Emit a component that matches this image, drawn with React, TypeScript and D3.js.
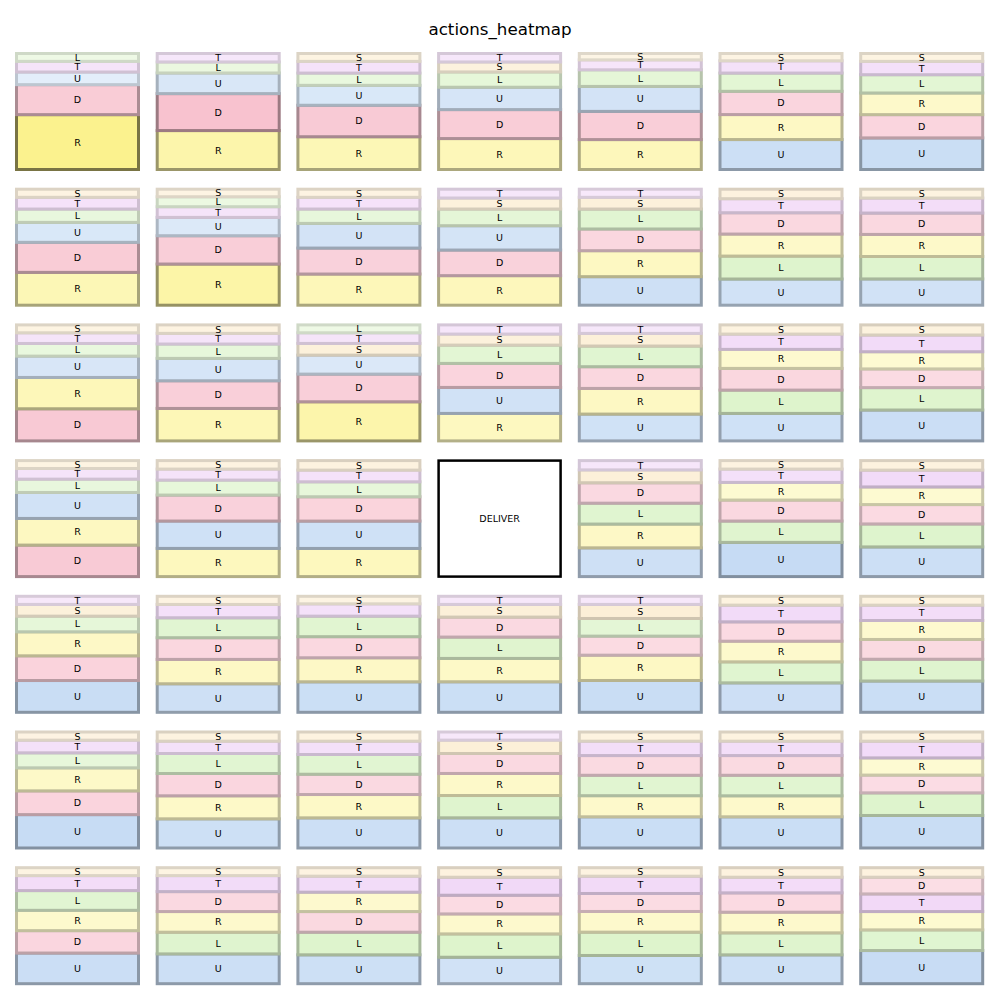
import React, { useEffect, useRef } from 'react';
import * as d3 from 'd3';

const actions = ['U', 'D', 'R', 'L', 'T', 'S'];
const baseColors = ['#7cade5', '#ef7c97', '#f9eb51', '#97dc61', '#cc70e2', '#f1b84c'];

const nRows = 7;
const nCols = 7;
const deliverCell = [3, 3];

// probabilities per action, row-major (7 x 7); null = DELIVER cell
const probU = [
  0.109, 0.178, 0.172, 0.193, 0.216, 0.259, 0.273,
  0.172, 0.158, 0.213, 0.210, 0.246, 0.226, 0.226,
  0.184, 0.193, 0.164, 0.224, 0.231, 0.237, 0.266,
  0.224, 0.236, 0.236, null, 0.248, 0.295, 0.256,
  0.274, 0.246, 0.263, 0.263, 0.274, 0.254, 0.269,
  0.287, 0.251, 0.260, 0.260, 0.269, 0.269, 0.280,
  0.264, 0.257, 0.249, 0.228, 0.243, 0.249, 0.286,
];
const probD = [
  0.259, 0.319, 0.272, 0.250, 0.244, 0.201, 0.201,
  0.259, 0.244, 0.224, 0.221, 0.187, 0.184, 0.184,
  0.277, 0.239, 0.239, 0.207, 0.187, 0.187, 0.161,
  0.272, 0.224, 0.210, null, 0.176, 0.181, 0.167,
  0.213, 0.187, 0.182, 0.172, 0.164, 0.167, 0.170,
  0.204, 0.192, 0.175, 0.172, 0.170, 0.170, 0.153,
  0.193, 0.172, 0.178, 0.161, 0.155, 0.167, 0.144,
];
const probR = [
  0.474, 0.336, 0.283, 0.267, 0.259, 0.216, 0.187,
  0.283, 0.355, 0.269, 0.255, 0.224, 0.190, 0.190,
  0.270, 0.280, 0.338, 0.237, 0.221, 0.164, 0.148,
  0.230, 0.243, 0.243, null, 0.205, 0.152, 0.152,
  0.207, 0.210, 0.207, 0.201, 0.218, 0.178, 0.163,
  0.198, 0.198, 0.201, 0.190, 0.182, 0.181, 0.148,
  0.175, 0.178, 0.167, 0.172, 0.178, 0.178, 0.158,
];
const probL = [
  0.068, 0.095, 0.106, 0.132, 0.144, 0.158, 0.158,
  0.115, 0.086, 0.124, 0.144, 0.172, 0.198, 0.193,
  0.109, 0.124, 0.068, 0.158, 0.178, 0.201, 0.193,
  0.115, 0.129, 0.129, null, 0.180, 0.184, 0.198,
  0.135, 0.172, 0.177, 0.184, 0.152, 0.181, 0.187,
  0.129, 0.172, 0.170, 0.192, 0.176, 0.177, 0.195,
  0.170, 0.187, 0.195, 0.201, 0.201, 0.190, 0.178,
];
const probT = [
  0.092, 0.073, 0.101, 0.073, 0.086, 0.106, 0.115,
  0.101, 0.092, 0.101, 0.076, 0.070, 0.121, 0.129,
  0.092, 0.092, 0.092, 0.079, 0.073, 0.132, 0.144,
  0.092, 0.095, 0.101, null, 0.080, 0.115, 0.145,
  0.070, 0.115, 0.106, 0.070, 0.070, 0.144, 0.132,
  0.109, 0.106, 0.115, 0.070, 0.124, 0.124, 0.144,
  0.129, 0.138, 0.138, 0.155, 0.149, 0.135, 0.152,
];
const probS = [
  0.000, 0.000, 0.068, 0.086, 0.055, 0.063, 0.068,
  0.070, 0.065, 0.070, 0.095, 0.101, 0.082, 0.076,
  0.068, 0.073, 0.101, 0.095, 0.109, 0.079, 0.087,
  0.068, 0.073, 0.082, null, 0.111, 0.073, 0.082,
  0.101, 0.070, 0.065, 0.109, 0.121, 0.076, 0.076,
  0.070, 0.079, 0.079, 0.115, 0.079, 0.079, 0.079,
  0.068, 0.068, 0.073, 0.082, 0.073, 0.082, 0.082,
];
const probs = [probU, probD, probR, probL, probT, probS];

const App = () => {
  const svgRef = useRef<SVGSVGElement | null>(null);
  const width = 1000;
  const height = 1000;

  useEffect(() => {
    if (!svgRef.current) return;
    const svg = d3.select(svgRef.current);
    svg.selectAll('*').remove();

    const font = 'DejaVu Sans, sans-serif';

    svg.append('rect').attr('width', width).attr('height', height).attr('fill', '#fff');

    svg.append('text')
      .attr('x', 500)
      .attr('y', 35)
      .attr('text-anchor', 'middle')
      .attr('font-family', font)
      .attr('font-size', 16.7)
      .text('actions_heatmap');

    // panel grid
    const colX = d3.scaleLinear().domain([0, 1]).range([16.5, 157.2]);
    const rowY = d3.scaleLinear().domain([0, 1]).range([53.5, 189.2]);
    const cellW = 122;
    const cellH = 116;

    const alpha = (p: number) => Math.min(1, 0.08 + 1.2 * p);
    const fillOf = (base: string, al: number) => d3.interpolateRgb('#ffffff', base)(al);
    const edgeOf = (fill: string, al: number) => {
      const c = d3.rgb(fill);
      const k = 1 - 0.8 * al;
      return d3.rgb(c.r * k, c.g * k, c.b * k).formatHex();
    };

    for (let r = 0; r < nRows; r++) {
      for (let c = 0; c < nCols; c++) {
        const x0 = colX(c);
        const y0 = rowY(r);
        const g = svg.append('g').attr('transform', `translate(${x0},${y0})`);

        if (r === deliverCell[0] && c === deliverCell[1]) {
          g.append('rect')
            .attr('width', cellW)
            .attr('height', cellH)
            .attr('fill', '#fff')
            .attr('stroke', '#000')
            .attr('stroke-width', 2.5);
          g.append('text')
            .attr('x', cellW / 2)
            .attr('y', cellH / 2)
            .attr('text-anchor', 'middle')
            .attr('dominant-baseline', 'central')
            .attr('font-family', font)
            .attr('font-size', 9.5)
            .text('DELIVER');
          continue;
        }

        const idx = r * nCols + c;
        const items = actions
          .map((a, i) => ({ a, i, p: probs[i][idx] as number }))
          .filter(d => d.p > 0)
          .sort((a, b) => b.p - a.p);
        const total = d3.sum(items, d => d.p);
        const y = d3.scaleLinear().domain([0, total]).range([cellH, 0]);

        let acc = 0;
        const segs = items.map(d => {
          const s = { ...d, y0: acc, y1: acc + d.p };
          acc += d.p;
          return s;
        });

        segs.forEach(s => {
          const al = alpha(s.p);
          const fill = fillOf(baseColors[s.i], al);
          g.append('rect')
            .attr('x', 0)
            .attr('y', y(s.y1))
            .attr('width', cellW)
            .attr('height', y(s.y0) - y(s.y1))
            .attr('fill', fill)
            .attr('stroke', edgeOf(fill, al))
            .attr('stroke-width', 3);
        });

        segs.forEach(s => {
          g.append('text')
            .attr('x', cellW / 2)
            .attr('y', (y(s.y0) + y(s.y1)) / 2)
            .attr('text-anchor', 'middle')
            .attr('dominant-baseline', 'central')
            .attr('font-family', font)
            .attr('font-size', 9.5)
            .attr('fill', '#000')
            .text(s.a);
        });
      }
    }
  }, []);

  return (
    <div style={{ position: 'absolute', left: 0, top: 0 }}>
      <svg ref={svgRef} width={width} height={height} style={{ display: 'block' }} />
    </div>
  );
};

export default App;
